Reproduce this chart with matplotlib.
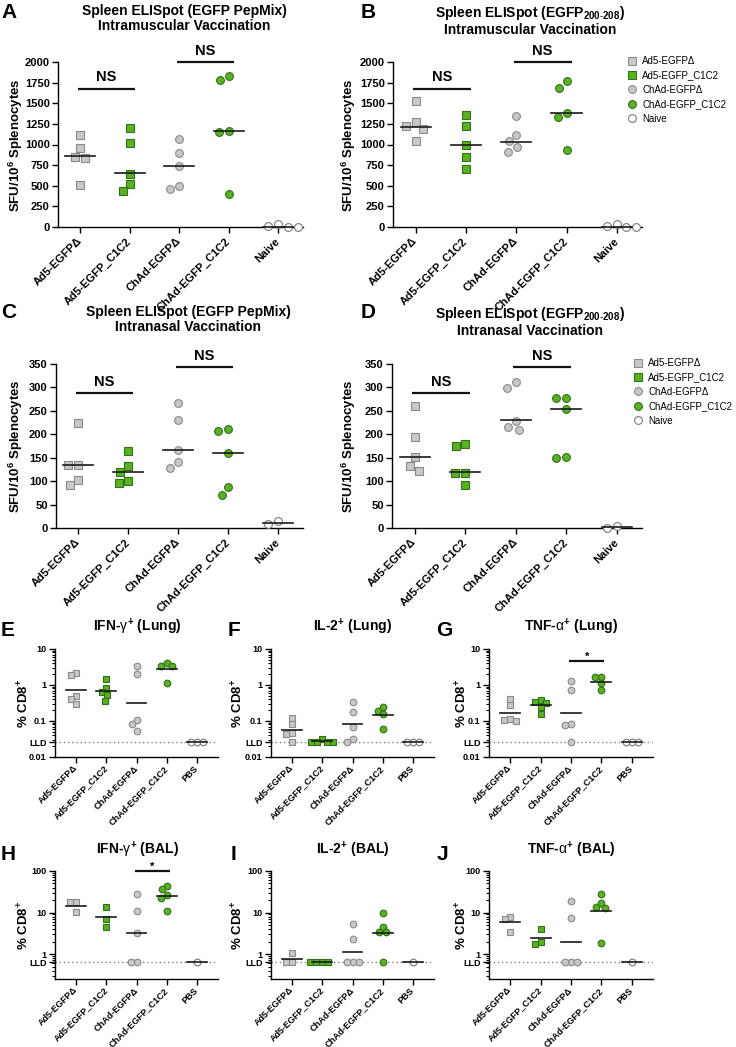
"""Spleen ELISpot and CD8+ cytokine panels (A-J)."""

import numpy as np
import matplotlib

matplotlib.use("Agg")
import matplotlib.pyplot as plt
from matplotlib.lines import Line2D
from matplotlib.ticker import LogLocator, NullFormatter

plt.rcParams["font.family"] = ["Liberation Sans", "DejaVu Sans"]
plt.rcParams["mathtext.fontset"] = "custom"
plt.rcParams["mathtext.rm"] = "Liberation Sans"
plt.rcParams["mathtext.bf"] = "Liberation Sans:bold"
plt.rcParams["mathtext.it"] = "Liberation Sans:italic"
plt.rcParams["mathtext.sf"] = "Liberation Sans"

W, H = 736, 1047

# ---- data ---------------------------------------------------------------
spleen_groups = ["Ad5-EGFPΔ", "Ad5-EGFP_C1C2", "ChAd-EGFPΔ", "ChAd-EGFP_C1C2", "Naive"]
cd8_groups = ["Ad5-EGFPΔ", "Ad5-EGFP_C1C2", "ChAd-EGFPΔ", "ChAd-EGFP_C1C2", "PBS"]

# A: EGFP PepMix, intramuscular (SFU / 10^6 splenocytes)
a_values = [
    [1111, 957, 853, 836, 509],
    [1200, 1022, 646, 521, 432],
    [1071, 901, 739, 497, 461],
    [1830, 1782, 1160, 1147, 404],
    [32, 8, 0, 0],
]
a_centre = [860, 650, 739, 1160, 4]

# B: EGFP 200-208, intramuscular
b_values = [
    [1523, 1269, 1220, 1188, 1038],
    [1362, 1220, 994, 853, 703],
    [1345, 1115, 1038, 966, 913],
    [1766, 1689, 1386, 1329, 933],
    [32, 8, 0, 0],
]
b_centre = [1216, 994, 1034, 1382, 4]

# C: EGFP PepMix, intranasal
c_values = [
    [224, 135, 134, 102, 91],
    [164, 133, 120, 101, 96],
    [267, 231, 166, 140, 128],
    [212, 208, 161, 87, 71],
    [14, 9],
]
c_centre = [134, 119, 166, 161, 11]

# D: EGFP 200-208, intranasal
d_values = [
    [260, 194, 151, 132, 122],
    [180, 174, 118, 118, 91],
    [311, 299, 229, 216, 209],
    [277, 277, 253, 152, 149],
    [5, 1],
]
d_centre = [151, 119, 230, 253, 3]

spleen_sig_pairs = [(0, 1), (2, 3)]
spleen_sig_labels = ["NS", "NS"]
im_sig_heights = [1677, 2000]
in_sig_heights = [288, 344]

# E-G: lung, % CD8+ (LLD = lower limit of detection)
lld_lung = 0.026
e_values = [
    [2.2, 1.85, 0.5, 0.41, 0.29],
    [1.45, 0.81, 0.64, 0.53, 0.37],
    [3.4, 2.0, 0.106, 0.085, 0.053],
    [4.0, 3.4, 3.4, 1.17],
    [0.026, 0.026, 0.026],
]
e_centre = [0.74, 0.68, 0.32, 2.7, 0.026]

f_values = [
    [0.121, 0.081, 0.047, 0.044, 0.026],
    [0.032, 0.026, 0.026, 0.026, 0.026],
    [0.34, 0.18, 0.070, 0.031, 0.026],
    [0.245, 0.19, 0.153, 0.059],
    [0.026, 0.026, 0.026],
]
f_centre = [0.057, 0.027, 0.083, 0.144, 0.026]

g_values = [
    [0.41, 0.28, 0.113, 0.106, 0.1],
    [0.38, 0.34, 0.31, 0.24, 0.16],
    [1.30, 0.71, 0.080, 0.075, 0.026],
    [1.65, 1.65, 1.12, 0.73],
    [0.026, 0.026, 0.026],
]
g_centre = [0.17, 0.28, 0.17, 1.22, 0.026]
g_sig_pairs = [(2, 3)]
g_sig_heights = [4.7]
g_sig_labels = ["*"]

# H-J: BAL, % CD8+
lld_bal = 0.63
h_values = [
    [17.7, 17.7, 10.2],
    [13.4, 7.0, 4.5],
    [28, 11, 3.25, 0.63, 0.63],
    [44, 36, 26.5, 22.5, 11],
    [0.63],
]
h_centre = [14.7, 7.6, 3.25, 25.6, 0.63]
h_sig_pairs = [(2, 3)]
h_sig_heights = [100]
h_sig_labels = ["*"]

i_values = [
    [1.06, 0.63, 0.63],
    [0.63, 0.63, 0.63, 0.63],
    [5.25, 2.3, 0.63, 0.63, 0.63],
    [9.5, 4.5, 3.4, 3.4, 0.63],
    [0.63],
]
i_centre = [0.76, 0.63, 1.12, 3.2, 0.63]

j_values = [
    [8.0, 6.9, 3.4],
    [4.0, 1.94, 1.77],
    [19.4, 7.2, 0.63, 0.63, 0.63],
    [27.5, 16.7, 13.9, 12.7, 1.8],
    [0.63],
]
j_centre = [5.75, 2.4, 2.0, 11.0, 0.63]

# ---- style ---------------------------------------------------------------
GREY, GREY_EDGE = "#c8c8c8", "#8a8a8a"
GREEN, GREEN_EDGE = "#58b222", "#33701a"
OPEN_EDGE = "#7a7a7a"
markers = ["s", "s", "o", "o", "o"]
fills = [GREY, GREEN, GREY, GREEN, "white"]
edges = [GREY_EDGE, GREEN_EDGE, GREY_EDGE, GREEN_EDGE, OPEN_EDGE]

fig = plt.figure(figsize=(W / 100, H / 100), dpi=100)


def add_axes(left, top, right, bottom):
    return fig.add_axes([left / W, 1 - bottom / H, (right - left) / W, (bottom - top) / H])


def ftext(x, y, s, **kw):
    fig.text(x / W, 1 - y / H, s, **kw)


def swarm(ypix, d):
    """Greedy beeswarm offsets (pixels) so markers of diameter d don't collide."""
    order = np.argsort(-np.asarray(ypix), kind="stable")
    placed, offs = [], np.zeros(len(ypix))
    for i in order:
        y = ypix[i]
        cands = [0.0]
        for px, py in placed:
            dy = abs(y - py)
            if dy < d:
                dx = np.sqrt(d * d - dy * dy)
                cands += [px - dx, px + dx]
        cands.sort(key=lambda c: (abs(c), c))
        for c in cands:
            if all((c - px) ** 2 + (y - py) ** 2 >= d * d - 1e-6 for px, py in placed):
                offs[i] = c
                break
        placed.append((offs[i], y))
    return offs


def draw_groups(ax, values, centres, ms, d_px, half):
    x0, x1 = ax.get_xlim()
    unit = ax.bbox.width / (x1 - x0)
    for i, (vals, c) in enumerate(zip(values, centres)):
        ypix = [ax.transData.transform((0, v))[1] for v in vals]
        offs = swarm(ypix, d_px) / unit
        ax.plot(i + offs, vals, ls="none", marker=markers[i], ms=ms,
                mfc=fills[i], mec=edges[i], mew=0.8, clip_on=False, zorder=3)
        ax.plot([i - half, i + half], [c, c], color="#1a1a1a", lw=1.2,
                zorder=4, clip_on=False)


def add_sig(ax, pairs, heights, labels, size, lift, va):
    for (g1, g2), h, lab in zip(pairs, heights, labels):
        ax.plot([g1 - 0.05, g2 + 0.1], [h, h], color="#111", lw=1.6,
                clip_on=False, zorder=5, solid_capstyle="butt")
        ax.annotate(lab, xy=((g1 + g2) / 2 + 0.02, h), xytext=(0, lift),
                    textcoords="offset points", ha="center", va=va,
                    fontsize=size, fontweight="bold", annotation_clip=False)


def base_style(ax, groups, xlim, tick_size, label_size, xpad):
    for side in ("top", "right"):
        ax.spines[side].set_visible(False)
    for side in ("left", "bottom"):
        ax.spines[side].set_linewidth(1.0)
    ax.set_xlim(*xlim)
    ax.set_xticks(range(len(groups)))
    ax.set_xticklabels(groups, rotation=45, ha="right", va="center",
                       rotation_mode="anchor", fontweight="bold",
                       fontsize=label_size)
    ax.tick_params(axis="both", length=4, width=1, labelsize=tick_size, pad=2)
    ax.tick_params(axis="x", pad=xpad)


def spleen_panel(box, values, centres, ymax, ystep, sig_heights):
    ax = add_axes(*box)
    ax.set_ylim(0, ymax)
    ticks = np.arange(0, ymax + 1, ystep)
    ax.set_yticks(ticks)
    ax.set_yticklabels([f"{t:d}" for t in ticks], fontweight="bold")
    base_style(ax, spleen_groups, (-0.45, 4.5), 8, 7.5, 5)
    draw_groups(ax, values, centres, ms=5.6, d_px=10, half=0.3)
    add_sig(ax, spleen_sig_pairs, sig_heights, spleen_sig_labels, 10.5, 3, "bottom")
    return ax


def cd8_panel(box, values, centres, ylim, ticks, tick_labels, lld):
    ax = add_axes(*box)
    ax.set_yscale("log")
    ax.set_ylim(*ylim)
    ax.axhline(lld, color="#808080", ls=(0, (1, 2)), lw=1.0, zorder=1)
    ax.set_yticks(ticks)
    ax.set_yticklabels(tick_labels, fontweight="bold")
    ax.yaxis.set_minor_locator(LogLocator(base=10, subs=np.arange(2, 10)))
    ax.yaxis.set_minor_formatter(NullFormatter())
    ax.tick_params(axis="y", which="minor", length=2, width=0.8)
    base_style(ax, cd8_groups, (-0.7, 4.7), 6.5, 6.3, 3)
    draw_groups(ax, values, centres, ms=4.8, d_px=6, half=0.33)
    return ax


# ---- spleen ELISpot rows ---------------------------------------------------
ax_a = spleen_panel((58, 62, 303, 227), a_values, a_centre, 2000, 250, im_sig_heights)
ax_b = spleen_panel((393, 62, 642, 227), b_values, b_centre, 2000, 250, im_sig_heights)
ax_c = spleen_panel((56, 364, 303, 528), c_values, c_centre, 350, 50, in_sig_heights)
ax_d = spleen_panel((392, 364, 642, 528), d_values, d_centre, 350, 50, in_sig_heights)

sfu_label = r"SFU/10$^{\mathbf{6}}$ Splenocytes"
for x, yc in [(16, 145), (349, 145), (16, 446), (349, 446)]:
    ftext(x, yc, sfu_label, rotation=90, ha="center", va="center",
          fontsize=9.5, fontweight="bold")

title_kw = dict(ha="center", va="top", fontsize=10, fontweight="bold",
                linespacing=1.1)
pep_line = "Spleen ELISpot (EGFP PepMix)"
epi_line = r"Spleen ELISpot (EGFP$_{\mathbf{200}\text{-}\mathbf{208}}$)"
ftext(184, 4, pep_line + "\nIntramuscular Vaccination", **title_kw)
ftext(530, 4, epi_line + "\nIntramuscular Vaccination", **title_kw)
ftext(188, 305, pep_line + "\nIntranasal Vaccination", **title_kw)
ftext(530, 305, epi_line + "\nIntranasal Vaccination", **title_kw)

legend_handles = [
    Line2D([], [], ls="none", marker=m, ms=5.6, mfc=f, mec=e, mew=0.8)
    for m, f, e in zip(markers, fills, edges)
]
for ax, (lx, ly) in [(ax_b, (627, 56)), (ax_d, (633, 358))]:
    ax.legend(legend_handles, spleen_groups, loc="upper left",
              bbox_to_anchor=(lx / W, 1 - ly / H), bbox_transform=fig.transFigure,
              frameon=False, fontsize=7.0, handlelength=1.0, handletextpad=0.55,
              labelspacing=0.45, borderpad=0, borderaxespad=0)

# ---- CD8+ cytokine rows ------------------------------------------------------
lung_ylim = (0.01, 10)
lung_ticks = [0.01, lld_lung, 0.1, 1, 10]
lung_tick_labels = ["0.01", "LLD", "0.1", "1", "10"]
bal_ylim = (0.25, 100)
bal_ticks = [lld_bal, 1, 10, 100]
bal_tick_labels = ["LLD", "1", "10", "100"]

ax_e = cd8_panel((55, 649, 218, 757), e_values, e_centre, lung_ylim, lung_ticks, lung_tick_labels, lld_lung)
ax_f = cd8_panel((271, 649, 434, 757), f_values, f_centre, lung_ylim, lung_ticks, lung_tick_labels, lld_lung)
ax_g = cd8_panel((489, 649, 653, 757), g_values, g_centre, lung_ylim, lung_ticks, lung_tick_labels, lld_lung)
add_sig(ax_g, g_sig_pairs, g_sig_heights, g_sig_labels, 8, 0.5, "baseline")

ax_h = cd8_panel((55, 871, 218, 979), h_values, h_centre, bal_ylim, bal_ticks, bal_tick_labels, lld_bal)
ax_i = cd8_panel((271, 871, 434, 979), i_values, i_centre, bal_ylim, bal_ticks, bal_tick_labels, lld_bal)
ax_j = cd8_panel((489, 871, 653, 979), j_values, j_centre, bal_ylim, bal_ticks, bal_tick_labels, lld_bal)
add_sig(ax_h, h_sig_pairs, h_sig_heights, h_sig_labels, 8, 0.5, "baseline")

cd8_label = r"% CD8$^{\mathbf{+}}$"
for x, yc in [(24, 703), (238, 703), (462, 703), (24, 925), (238, 925), (462, 925)]:
    ftext(x, yc, cd8_label, rotation=90, ha="center", va="center",
          fontsize=9.5, fontweight="bold")

small_title = dict(ha="center", va="center", fontsize=10, fontweight="bold")
ftext(137, 627, r"IFN-$\mathrm{\gamma}^{\mathbf{+}}$ (Lung)", **small_title)
ftext(353, 627, r"IL-2$^{\mathbf{+}}$ (Lung)", **small_title)
ftext(571, 627, r"TNF-$\mathrm{\alpha}^{\mathbf{+}}$ (Lung)", **small_title)
ftext(137, 850, r"IFN-$\mathrm{\gamma}^{\mathbf{+}}$ (BAL)", **small_title)
ftext(353, 850, r"IL-2$^{\mathbf{+}}$ (BAL)", **small_title)
ftext(571, 850, r"TNF-$\mathrm{\alpha}^{\mathbf{+}}$ (BAL)", **small_title)

# ---- panel letters -------------------------------------------------------------
letter_kw = dict(ha="left", va="center", fontsize=15, fontweight="bold")
for letter, x, y in [("A", 1, 12), ("B", 361, 12), ("C", 1, 313), ("D", 361, 313),
                     ("E", 1, 630), ("F", 228, 630), ("G", 436, 630),
                     ("H", 1, 855), ("I", 231, 855), ("J", 437, 855)]:
    ftext(x, y, letter, **letter_kw)

fig.savefig("out.png", dpi=100)
plt.close(fig)
